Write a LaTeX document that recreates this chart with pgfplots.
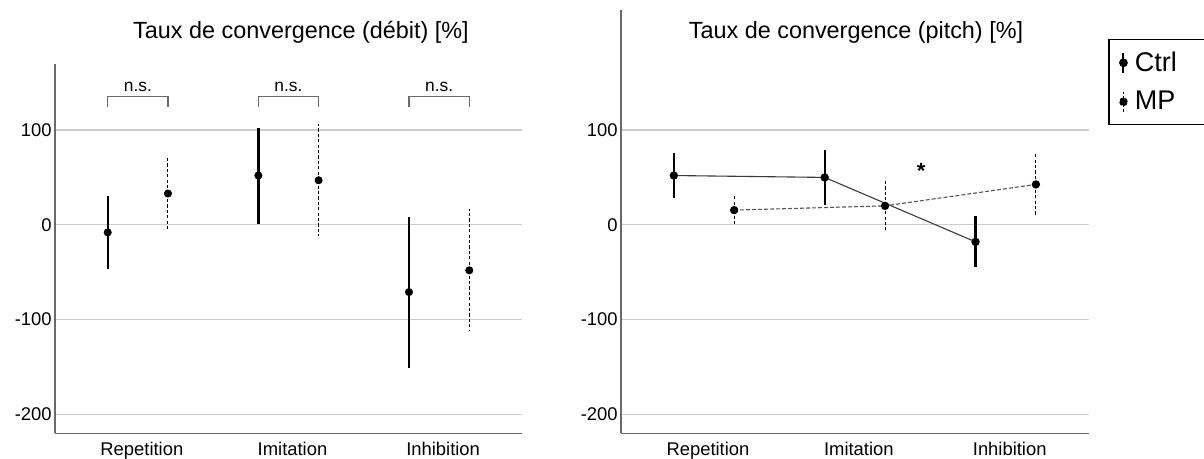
\documentclass[border=0pt]{standalone}
\usepackage{fontspec}
\setmainfont{Liberation Sans}
\usepackage{pgfplots}
\pgfplotsset{compat=1.18}

\definecolor{gridc}{HTML}{CDCDCD}
\definecolor{axc}{HTML}{6A6A6A}
\definecolor{linec}{HTML}{3A3A3A}
\definecolor{mpline}{HTML}{555555}

\pgfplotsset{
  base/.style={
    scale only axis, anchor=south west,
    xmin=-0.55, xmax=2.55, ymin=-220,
    axis x line*=bottom, axis y line*=left,
    axis line style={-, axc, line width=0.65pt},
    xtick={0,1,2}, xticklabels={Repetition,Imitation,Inhibition},
    ytick={-200,-100,0,100}, yticklabels={-200,-100,0,100},
    ymajorgrids, grid style={gridc, line width=0.6pt},
    major tick style={draw=none},
    tick label style={font=\fontsize{9.2}{11}\selectfont},
    /pgf/number format/assume math mode=true,
    yticklabel style={inner xsep=1.5pt},
    xticklabel style={xshift=2pt, yshift=-1pt},
    clip=false,
  },
  ctrlbar/.style={black, mark=*, mark size=1.8pt, mark options={solid, fill=black, draw=black},
    error bars/y dir=both, error bars/y explicit, error bars/error mark=none,
    error bars/error bar style={line width=1.15pt, black, solid}},
  mpbar/.style={black, mark=*, mark size=1.8pt, mark options={solid, fill=black, draw=black},
    error bars/y dir=both, error bars/y explicit, error bars/error mark=none,
    error bars/error bar style={line width=0.5pt, black, dash pattern=on 1.6pt off 1.1pt}},
  bracket/.style={axc, line width=0.6pt, no marks, forget plot},
}

\begin{document}
\begin{tikzpicture}
\useasboundingbox (0,0) rectangle (602pt,229.5pt);

% titles
\node[anchor=base, font=\fontsize{11.7}{14}\selectfont] at (150.5pt,210.25pt) {Taux de convergence (débit) [\%]};
\node[anchor=base, font=\fontsize{11.7}{14}\selectfont] at (428pt,210pt) {Taux de convergence (pitch) [\%]};

% ---------------- left panel ----------------
\begin{axis}[base, at={(27.5pt,12.85pt)}, width=233.5pt, height=184.8pt, ymax=170]
\addplot[ctrlbar, only marks, forget plot] coordinates {
  (-0.2,-8) += (0,38) -= (0,39)
  (0.8,52) += (0,50) -= (0,51)
  (1.8,-71) += (0,79) -= (0,80)
};
\addplot[mpbar, only marks, forget plot] coordinates {
  (0.2,33) += (0,38) -= (0,38)
  (1.2,47) += (0,59) -= (0,59)
  (2.2,-48) += (0,65) -= (0,64)
};
\addplot[bracket] coordinates {(-0.2,124) (-0.2,135) (0.2,135) (0.2,124)};
\addplot[bracket] coordinates {(0.8,124) (0.8,135) (1.2,135) (1.2,124)};
\addplot[bracket] coordinates {(1.8,124) (1.8,135) (2.2,135) (2.2,124)};
\node[anchor=base, font=\fontsize{8.7}{10}\selectfont] at (axis cs:0,141) {n.s.};
\node[anchor=base, font=\fontsize{8.7}{10}\selectfont] at (axis cs:1,141) {n.s.};
\node[anchor=base, font=\fontsize{8.7}{10}\selectfont] at (axis cs:2,141) {n.s.};
\end{axis}

% ---------------- right panel ----------------
\begin{axis}[base, at={(310.5pt,12.85pt)}, width=233.85pt, height=211.8pt, ymax=227,
  legend cell align=left,
  legend style={at={(1.042,0.9315)}, anchor=north west, draw=black, line width=0.75pt,
    font=\fontsize{13.5}{15}\selectfont, inner xsep=5pt, inner ysep=4pt, row sep=4.5pt,
    nodes={inner xsep=3.5pt}},
]
\addplot[ctrlbar, linec, line width=0.55pt,
  legend image code/.code={\draw[black, solid, line width=1pt] (0pt,-5pt)--(0pt,5pt); \fill[black] (0pt,0pt) circle (1.9pt);}]
  coordinates {
  (-0.2,52) += (0,24) -= (0,24)
  (0.8,50) += (0,29) -= (0,29)
  (1.8,-18) += (0,27.5) -= (0,27)
};
\addlegendentry{Ctrl\hspace*{20pt}}
\addplot[mpbar, mpline, line width=0.55pt, dash pattern=on 2pt off 1pt,
  legend image code/.code={\draw[black, line width=0.5pt, dash pattern=on 1.2pt off 1pt] (0pt,-5pt)--(0pt,5pt); \fill[black] (0pt,0pt) circle (1.9pt);}]
  coordinates {
  (0.2,15.5) += (0,15) -= (0,15.5)
  (1.2,20) += (0,26) -= (0,25.5)
  (2.2,42.6) += (0,32.5) -= (0,33)
};
\addlegendentry{MP}
\node[font=\bfseries\fontsize{11}{12}\selectfont] at (axis cs:1.44,57) {*};
\end{axis}
\end{tikzpicture}
\end{document}
